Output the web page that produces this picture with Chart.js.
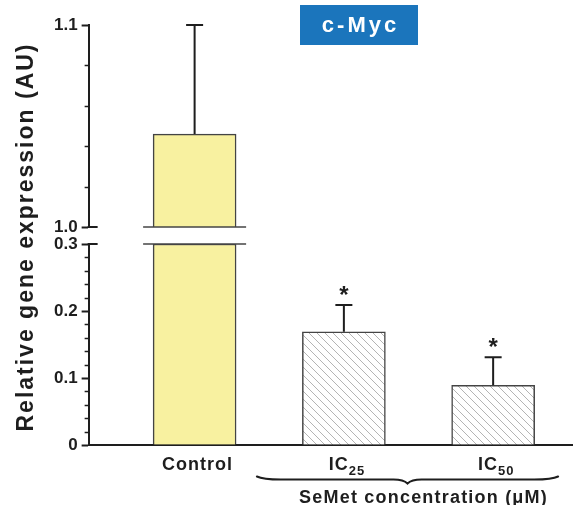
<!DOCTYPE html>
<html><head><meta charset="utf-8">
<script src="https://cdn.jsdelivr.net/npm/chart.js@4/dist/chart.umd.min.js"></script>
<style>html,body{margin:0;padding:0;background:#fff;overflow:hidden}#wrap{width:573px;height:505px;position:relative}</style>
</head><body><div id="wrap"><canvas id="c"></canvas></div>
<script>
// ---- data ----
const categories = ['Control', 'IC25', 'IC50'];
const labelMain = ['Control', 'IC', 'IC'];
const labelSub = ['', '25', '50'];
const values = [1.046, 0.169, 0.089];
const errors = [0.054, 0.040, 0.042];
const significant = [false, true, true];
const topTickLabels = ['1.0', '1.1'];
const bottomTickLabels = ['0', '0.1', '0.2', '0.3'];
const minorStep = 0.02;
const chartTitle = 'c-Myc';
const yTitle = 'Relative gene expression (AU)';
const groupTitle = 'SeMet concentration (\u03bcM)';

// ---- derived ----
const topMin = parseFloat(topTickLabels[0]), topMax = parseFloat(topTickLabels[topTickLabels.length - 1]);
const botMin = parseFloat(bottomTickLabels[0]), botMax = parseFloat(bottomTickLabels[bottomTickLabels.length - 1]);
const FONT = "'Liberation Sans', Arial, sans-serif";
const INK = '#1e1e1e';

function makeHatch() {
  const c = document.createElement('canvas'); c.width = 8; c.height = 8;
  const g = c.getContext('2d');
  g.fillStyle = '#fff'; g.fillRect(0, 0, 8, 8);
  g.strokeStyle = '#b4b4b4'; g.lineWidth = 1;
  g.beginPath(); g.moveTo(-1, -1); g.lineTo(9, 9); g.moveTo(-1, 7); g.lineTo(1, 9); g.moveTo(7, -1); g.lineTo(9, 1); g.stroke();
  return g.createPattern(c, 'repeat');
}
const hatch = makeHatch();
const fills = categories.map((c, i) => i === 0 ? '#f8f1a0' : hatch);

const topData = values.map((v, i) => ({x: i, y: v > topMin ? v : null}));
const botData = values.map((v, i) => ({x: i, y: Math.min(v, botMax)}));

function tickList(min, max) {
  const n = Math.round((max - min) / minorStep), out = [];
  for (let k = 0; k <= n; k++) out.push({value: +(min + k * minorStep).toFixed(4)});
  return out;
}
function labelFor(labels, v) {
  const l = labels.find(s => Math.abs(parseFloat(s) - v) < 1e-6);
  return l === undefined ? '' : l;
}
function yAxis(min, max, labels, weightStack, w) {
  return {
    type: 'linear', position: 'left', stack: 'y', stackWeight: weightStack, weight: w,
    min: min, max: max,
    afterBuildTicks: s => { s.ticks = tickList(min, max); },
    grid: { drawOnChartArea: false, tickLength: 7, tickWidth: 2,
      tickColor: ctx => labelFor(labels, ctx.tick.value) ? INK : 'rgba(0,0,0,0)' },
    border: { display: true, color: INK, width: 2 },
    ticks: { autoSkip: false, padding: 4, color: INK, font: { family: FONT, size: 17, weight: 'bold' },
      callback: v => labelFor(labels, v) }
  };
}

const overlay = {
  id: 'overlay',
  afterDatasetsDraw(chart) {
    const ctx = chart.ctx, xs = chart.scales.x, yT = chart.scales.yTop, yB = chart.scales.yBot;
    const ax = chart.chartArea.left;
    ctx.save();
    // minor ticks
    ctx.strokeStyle = INK; ctx.lineWidth = 1.5;
    [[yT, topTickLabels], [yB, bottomTickLabels]].forEach(([s, labs]) => {
      s.ticks.forEach(t => {
        if (labelFor(labs, t.value)) return;
        const y = Math.round(s.getPixelForValue(t.value)) + 0.5;
        ctx.beginPath(); ctx.moveTo(ax - 4, y); ctx.lineTo(ax, y); ctx.stroke();
      });
    });
    // axis break marks and bar break lines
    const yb1 = yT.getPixelForValue(topMin), yb2 = yB.getPixelForValue(botMax);
    ctx.lineWidth = 2;
    [yb1, yb2].forEach(y => {
      ctx.beginPath(); ctx.moveTo(ax - 1, y); ctx.lineTo(ax + 9, y); ctx.stroke();
    });
    const meta = chart.getDatasetMeta(1);
    values.forEach((v, i) => {
      if (v <= botMax) return;
      const el = meta.data[i];
      const l = el.x - el.width / 2 - 10, r = el.x + el.width / 2 + 10;
      ctx.strokeStyle = '#444'; ctx.lineWidth = 1.5;
      [yb1, yb2].forEach(y => { ctx.beginPath(); ctx.moveTo(l, y); ctx.lineTo(r, y); ctx.stroke(); });
    });
    // error bars + significance
    ctx.strokeStyle = INK; ctx.fillStyle = INK; ctx.lineWidth = 2;
    values.forEach((v, i) => {
      const s = v > topMin ? yT : yB;
      const x = xs.getPixelForValue(i);
      const y0 = s.getPixelForValue(v), y1 = s.getPixelForValue(v + errors[i]);
      ctx.beginPath(); ctx.moveTo(x, y0); ctx.lineTo(x, y1);
      ctx.moveTo(x - 8.5, y1); ctx.lineTo(x + 8.5, y1); ctx.stroke();
      if (significant[i]) {
        ctx.font = 'bold 24px ' + FONT; ctx.textAlign = 'center'; ctx.textBaseline = 'alphabetic';
        ctx.fillText('*', x, y1 - 2);
      }
    });
    ctx.restore();
  },
  afterDraw(chart) {
    const ctx = chart.ctx, xs = chart.scales.x;
    ctx.save();
    ctx.fillStyle = INK;
    // category labels
    ctx.textBaseline = 'alphabetic';
    categories.forEach((c, i) => {
      const x = xs.getPixelForValue(i) + 3;
      ctx.letterSpacing = '1px';
      ctx.font = 'bold 18px ' + FONT;
      const w1 = ctx.measureText(labelMain[i]).width;
      ctx.font = 'bold 13px ' + FONT;
      const w2 = labelSub[i] ? ctx.measureText(labelSub[i]).width : 0;
      const start = x - (w1 + w2) / 2;
      ctx.textAlign = 'left';
      ctx.font = 'bold 18px ' + FONT; ctx.fillText(labelMain[i], start, 470);
      if (labelSub[i]) { ctx.font = 'bold 13px ' + FONT; ctx.fillText(labelSub[i], start + w1, 475); }
    });
    // brace under treatment groups
    const bl = xs.getPixelForValue(1) - 87, br = xs.getPixelForValue(2) + 65, bm = (bl + br) / 2;
    ctx.strokeStyle = INK; ctx.lineWidth = 2; ctx.lineCap = 'round';
    ctx.beginPath();
    ctx.moveTo(bl, 476.5);
    ctx.quadraticCurveTo(bl + 6, 479.5, bl + 24, 479.5);
    ctx.lineTo(bm - 14, 479.5);
    ctx.quadraticCurveTo(bm - 4, 479.5, bm, 483.5);
    ctx.quadraticCurveTo(bm + 4, 479.5, bm + 14, 479.5);
    ctx.lineTo(br - 24, 479.5);
    ctx.quadraticCurveTo(br - 6, 479.5, br, 476.5);
    ctx.stroke();
    ctx.letterSpacing = '1.2px';
    ctx.font = 'bold 18px ' + FONT; ctx.textAlign = 'center';
    ctx.fillText(groupTitle, bm + 16, 503);
    // y title
    ctx.save();
    ctx.translate(33, 237); ctx.rotate(-Math.PI / 2);
    ctx.letterSpacing = '2px';
    ctx.font = 'bold 23px ' + FONT; ctx.textAlign = 'center';
    ctx.fillText(yTitle, 0, 0);
    ctx.restore();
    // title box
    ctx.fillStyle = '#1b75bc';
    ctx.fillRect(300, 5, 118, 40);
    ctx.fillStyle = '#fff';
    ctx.letterSpacing = '3px';
    ctx.font = 'bold 22px ' + FONT; ctx.textAlign = 'center'; ctx.textBaseline = 'middle';
    ctx.fillText(chartTitle, 360.5, 26);
    ctx.restore();
  }
};

new Chart(document.getElementById('c'), {
  type: 'bar',
  data: {
    datasets: [
      { data: topData, yAxisID: 'yTop', backgroundColor: fills, borderColor: '#444', borderWidth: 1.5,
        barThickness: 83, grouped: false },
      { data: botData, yAxisID: 'yBot', backgroundColor: fills, borderColor: '#444', borderWidth: 1.5,
        barThickness: 83, grouped: false }
    ]
  },
  options: {
    animation: false, responsive: true, maintainAspectRatio: false,
    layout: { padding: { left: 50, top: 25, right: 0, bottom: 52 } },
    plugins: { legend: { display: false }, tooltip: { enabled: false } },
    scales: {
      x: { type: 'linear', offset: false, min: -0.71, max: 2.535, grid: { display: false, offset: false }, ticks: { display: false },
        border: { display: true, color: INK, width: 2 } },
      yTop: yAxis(topMin, topMax, topTickLabels, 202, 3),
      yGap: { type: 'linear', position: 'left', stack: 'y', stackWeight: 17, weight: 2, min: 0, max: 1,
        grid: { display: false }, border: { display: false }, ticks: { display: false } },
      yBot: yAxis(botMin, botMax, bottomTickLabels, 201, 1)
    }
  },
  plugins: [overlay]
});
</script>
</body></html>
